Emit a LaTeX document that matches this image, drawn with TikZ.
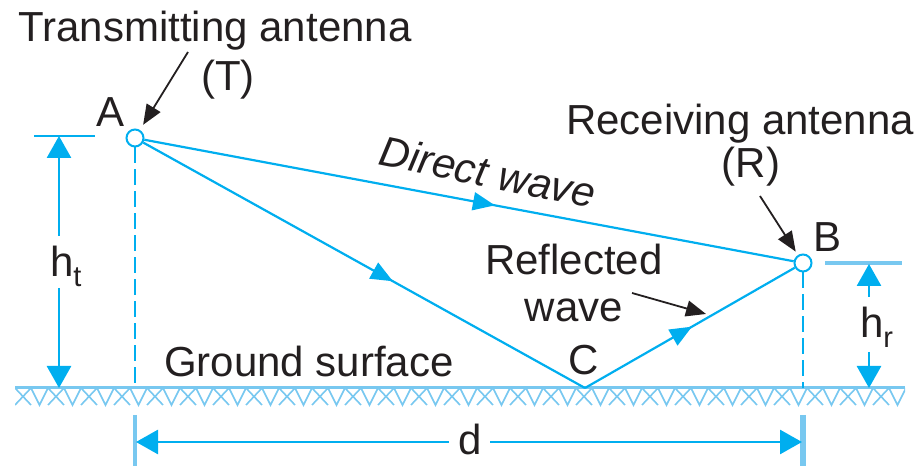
\documentclass[tikz,border=0pt]{standalone}
\usepackage{fontspec}
\setmainfont{Liberation Sans}
\usetikzlibrary{arrows.meta,decorations.markings}
\definecolor{cy}{RGB}{0,174,239}
\definecolor{cylt}{RGB}{120,200,240}
\definecolor{ink}{RGB}{35,31,32}
\begin{document}
\begin{tikzpicture}[x=0.5pt,y=-0.5pt,
  lbl/.style={font=\fontsize{21}{23.5}\selectfont, text=ink, inner sep=0pt, outer sep=0pt},
  ant/.style={circle, draw=cy, fill=white, line width=1pt, minimum size=8.5pt, inner sep=0pt},
  wave/.style={draw=cy, line width=1.1pt},
  midarrow/.style={postaction={decorate}, decoration={markings, mark=at position #1 with {\arrow{Triangle[length=11pt,width=9pt]}}}},
  dimline/.style={draw=cy, line width=1.4pt, -{Triangle[length=11pt,width=12pt]}},
  tickline/.style={draw=cy, line width=1.3pt},
  lttick/.style={draw=cylt, line width=2pt},
  drop/.style={draw=cy, line width=1.4pt, dash pattern=on 8pt off 3pt},
  pointer/.style={draw=ink, line width=0.9pt, -{Triangle[length=10pt,width=8pt]}},
  hatch/.style={draw=cylt, line width=0.8pt},
]
\useasboundingbox (0,0) rectangle (922,469);

% ground
\coordinate (g1) at (15,388);
\coordinate (g2) at (905,388);
\begin{scope}
\clip (15,385) rectangle (905,410);
\foreach \k in {0,...,27} {
  \pgfmathsetmacro\xx{15+33*\k}
  \draw[hatch] (\xx,388) -- (\xx+16,405) (\xx,405) -- (\xx+16,388)
               (\xx+16,388) -- (\xx+24.5,405) -- (\xx+33,388);
}
\end{scope}
\draw[draw=cylt, line width=1.5pt] (g1) -- (g2);

% antennas and reflection point
\node[ant] (A) at (135,138) {};
\node[ant] (B) at (803,263) {};
\coordinate (C) at (585,388);

% drops
\draw[drop] (A.south) -- (A |- C);
\draw[drop] (B.south) -- (B |- C);

% waves
\draw[wave, midarrow=0.54] (A) -- (B);
\draw[wave, midarrow=0.565] (A) -- (C);
\draw[wave, midarrow=0.51] (C) -- (B);

% labels
\node[lbl, anchor=base] (Ttxt) at (215,42) {Transmitting antenna};
\node[lbl, anchor=base] (Tlab) at (228,91) {(T)};
\node[lbl, anchor=base] (Alab) at (111,127) {A};
\node[lbl, anchor=base] (Rtxt) at (740,135) {Receiving antenna};
\node[lbl, anchor=base] (Rlab) at (751,178) {(R)};
\node[lbl, anchor=base] (Blab) at (828,252) {B};
\node[lbl, anchor=base] (Clab) at (584,375) {C};
\node[lbl, anchor=base] (gs) at (309,377) {Ground surface};
\node[lbl, anchor=base] (dlab) at (470,455) {d};
\node[lbl, font=\fontsize{21}{23.5}\selectfont\itshape, rotate=-11.5] (dw) at (488,172) {Direct wave};
\node[lbl, align=center] (rw) at (574,283) {Reflected\\wave};
\node[lbl, anchor=base west] (htlab) at (50,277) {h\raisebox{-5pt}{\fontsize{14.5}{15}\selectfont t}};
\node[lbl, anchor=base west] (hrlab) at (860,338) {h\raisebox{-5pt}{\fontsize{14.5}{15}\selectfont r}};

% pointers
\coordinate (Tp) at (188,52);
\coordinate (Rp) at (760,196);
\coordinate (rwp1) at (632,293);
\coordinate (rwp2) at (706,314);
\draw[pointer, shorten >=3pt] (Tp) -- (A);
\draw[pointer, shorten >=2pt] (Rp) -- (B);
\draw[pointer] (rwp1) -- (rwp2);

% h_t dimension
\coordinate (htk1) at (34,136);
\coordinate (htk2) at (95,136);
\coordinate (ht1) at (59,136);
\coordinate (ht2) at (59,388);
\coordinate (htg1) at (59,236);
\coordinate (htg2) at (59,288);
\draw[tickline] (htk1) -- (htk2);
\draw[dimline] (htg1) -- (ht1);
\draw[dimline] (htg2) -- (ht2);

% h_r dimension
\coordinate (hrk1) at (825,263);
\coordinate (hrk2) at (902,263);
\coordinate (hr1) at (869,264);
\coordinate (hr2) at (869,388);
\coordinate (hrg1) at (869,297);
\coordinate (hrg2) at (869,352);
\draw[lttick] (hrk1) -- (hrk2);
\draw[dimline] (hrg1) -- (hr1);
\draw[dimline] (hrg2) -- (hr2);

% d dimension
\coordinate (dk1a) at (135,415);
\coordinate (dk1b) at (135,466);
\coordinate (dk2a) at (803,415);
\coordinate (dk2b) at (803,466);
\coordinate (d1) at (136,442);
\coordinate (d2) at (802,442);
\coordinate (dg1) at (449,442);
\coordinate (dg2) at (490,442);
\draw[lttick] (dk1a) -- (dk1b);
\draw[lttick, line width=3pt] (dk2a) -- (dk2b);
\draw[dimline] (dg1) -- (d1);
\draw[dimline] (dg2) -- (d2);
\end{tikzpicture}
\end{document}
